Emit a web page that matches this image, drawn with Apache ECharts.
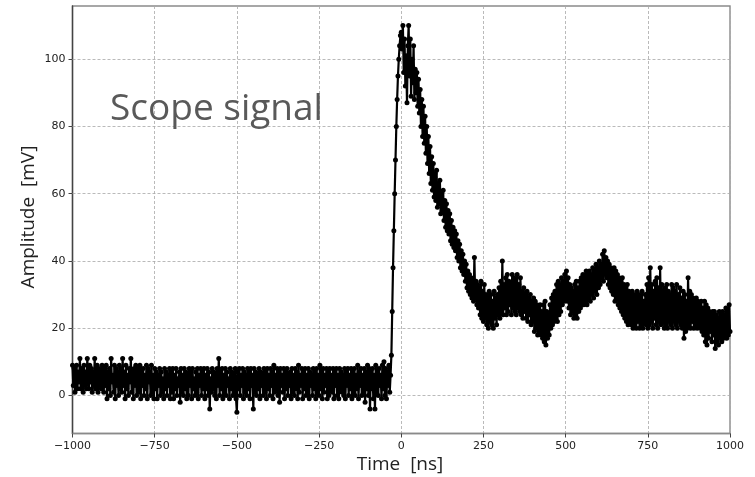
<!DOCTYPE html>
<html>
<head>
<meta charset="utf-8">
<script src="https://cdn.jsdelivr.net/npm/echarts@6/dist/echarts.min.js"></script>
<style>
html,body{margin:0;padding:0;background:#fff;}
#chart{width:755px;height:477px;}
</style>
</head>
<body>
<div id="chart"></div>
<script>
// ---- data (mV), sampled every 2.5 ns starting at -1000 ns ----
const startTime = -1000;   // ns
const sampleStep = 2.5;    // ns
// pre-trigger baseline, -1000 .. -32.5 ns
const baseline = [
  9,3,8,1,6,9,2,7,4,11,2,8,5,1,9,3,7,2,11,6,
  2,9,4,8,1,7,3,11,2,6,9,1,8,3,7,2,9,5,1,8,
  3,9,-1,7,2,8,0,11,4,6,1,9,-1,8,3,7,0,9,2,8,
  1,11,3,7,-1,9,2,6,0,8,4,11,1,7,-1,8,3,9,0,6,
  8,1,9,-1,7,3,8,0,6,2,9,-1,8,4,7,0,9,1,6,-1,
  8,2,7,-1,6,3,8,0,7,1,5,-1,8,2,7,0,6,3,8,-1,
  7,1,8,-1,6,2,8,0,5,3,7,-2,8,1,6,0,8,2,7,-1,
  6,0,8,3,7,-1,8,2,5,0,7,1,8,-1,6,3,8,0,7,2,
  8,-1,6,2,8,0,7,-4,5,1,8,2,7,0,6,-1,8,3,11,0,
  7,2,8,-1,6,1,8,0,7,3,5,-1,8,2,7,0,6,1,8,-1,
  -5,7,2,8,0,6,3,8,-1,7,1,6,0,8,2,7,-1,8,3,6,
  -4,8,1,7,0,6,2,8,-1,7,3,6,0,8,1,7,-1,8,2,6,
  0,8,3,7,-1,9,1,6,2,8,0,7,-2,8,3,6,1,8,-1,7,
  2,8,0,6,3,7,-1,8,1,6,0,8,2,7,-1,9,1,6,3,8,
  -1,7,2,8,0,6,1,8,-1,7,3,6,0,8,2,7,-1,8,1,6,
  0,9,2,7,-1,8,1,6,3,8,-1,7,0,8,2,6,1,8,-1,7,
  3,8,0,6,-1,8,2,7,1,6,0,8,-1,7,3,8,0,6,2,8,
  -1,7,1,8,0,6,2,9,-1,7,3,8,0,6,1,8,-2,7,2,9,
  0,8,-4,7,2,8,-1,6,-4,9,1,7,0,8,3,6,-1,9,2,10,
  0,8,-1,7,3,9,1,6
];
// leading edge, -30 .. 0 ns
const riseEdge = [12,25,38,49,60,70,80,88,95,100,104,107,108];
// pulse decay and afterpulses, 2.5 .. 1000 ns
const pulseTail = [
  103,110,96,106,92,101,87,104,110,95,106,89,100,93,104,88,97,90,96,86,
  94,84,91,80,88,77,86,75,83,72,80,69,77,66,74,63,71,61,69,59,
  66,58,67,56,63,57,64,54,60,55,61,52,58,50,57,49,55,48,54,46,
  52,45,50,44,49,43,48,41,46,40,45,38,43,37,42,36,40,34,39,32,
  37,31,36,30,35,29,34,28,41,29,34,27,33,26,32,24,34,23,31,22,
  33,23,30,21,29,20,31,22,30,21,28,20,31,23,29,21,30,24,32,23,
  34,25,40,24,33,26,35,24,36,25,34,27,33,24,36,26,35,25,34,24,
  36,26,33,25,35,24,31,23,32,25,30,23,31,22,29,24,30,21,28,22,
  29,19,28,20,27,18,26,19,27,18,25,17,27,16,28,15,25,17,24,18,
  27,20,29,21,30,22,31,23,33,22,34,24,33,25,35,27,34,28,36,29,
  37,28,35,26,33,24,32,25,31,23,33,24,34,23,32,25,34,26,35,27,
  36,27,35,28,37,27,36,29,37,28,36,30,38,29,37,31,39,30,38,32,
  40,33,39,35,42,34,43,36,41,35,40,33,39,32,38,31,37,30,38,28,
  37,29,36,27,35,26,34,25,35,24,33,23,32,22,33,21,31,22,30,21,
  31,20,30,21,29,20,31,22,30,20,29,21,31,20,28,22,30,21,33,20,
  35,21,38,22,33,20,31,23,34,21,35,20,32,22,38,21,33,22,31,20,
  32,21,33,20,31,22,30,21,33,20,32,22,31,21,33,20,30,22,32,21,
  29,20,31,17,30,19,28,20,35,21,31,20,30,22,29,20,28,21,29,20,
  28,21,27,20,28,19,26,18,28,16,27,15,26,17,25,19,24,16,25,18,
  25,14,24,16,23,15,25,17,24,16,25,17,24,18,26,17,25,18,27,19
];
const xTicks = [-1000,-750,-500,-250,0,250,500,750,1000];
const yTicks = [0,20,40,60,80,100];
const titleText = 'Scope signal';
const xName = 'Time  [ns]';
const yName = 'Amplitude  [mV]';

const amplitude = baseline.concat(riseEdge, pulseTail);
const seriesData = amplitude.map((v, i) => [startTime + i * sampleStep, v]);

const fmt = v => (v < 0 ? '\u2212' + Math.abs(v) : String(v));
const tickFont = {fontFamily: 'DejaVu Sans', fontSize: 11, color: '#222'};

const chart = echarts.init(document.getElementById('chart'), null, {renderer: 'canvas'});
chart.setOption({
  animation: false,
  backgroundColor: '#fff',
  grid: {left: 72.5, right: 25, top: 6, bottom: 43.5, show: true, borderColor: '#8a8a8a', borderWidth: 1.4, backgroundColor: 'transparent'},
  xAxis: {
    type: 'value', min: xTicks[0], max: xTicks[xTicks.length - 1], interval: 250,
    axisLine: {show: true, onZero: false, lineStyle: {color: '#8a8a8a', width: 1.4}},
    axisTick: {show: true, length: 4, lineStyle: {color: '#444'}},
    axisLabel: Object.assign({margin: 7, formatter: fmt}, tickFont),
    splitLine: {show: true, lineStyle: {color: '#a8a8a8', type: [3, 2], width: 0.8}}
  },
  yAxis: {
    type: 'value', min: -11.3, max: 115.8,
    axisLine: {show: true, onZero: false, lineStyle: {color: '#444', width: 1.4}},
    axisTick: {show: true, length: 4, customValues: yTicks, lineStyle: {color: '#444'}},
    axisLabel: Object.assign({margin: 7, customValues: yTicks, formatter: fmt}, tickFont),
    splitLine: {show: false}
  },
  graphic: [
    {type: 'text', x: 110, y: 109, z: 10, style: {text: titleText, font: '37px "Open Sans"', fill: '#595959', align: 'left', verticalAlign: 'middle'}},
    {type: 'text', x: 400, y: 465, z: 10, style: {text: xName, font: '19px "Open Sans"', fill: '#222', align: 'center', verticalAlign: 'middle'}},
    {type: 'text', x: 29, y: 217, rotation: Math.PI / 2, z: 10, style: {text: yName, font: '19px "Open Sans"', fill: '#222', align: 'center', verticalAlign: 'middle'}}
  ],
  series: [{
    type: 'line',
    data: seriesData,
    showAllSymbol: true,
    symbol: 'circle',
    symbolSize: 5,
    lineStyle: {color: '#000', width: 2.2},
    itemStyle: {color: '#000'},
    z: 3,
    markLine: {
      silent: true, symbol: 'none', label: {show: false}, z: 1,
      lineStyle: {color: '#a8a8a8', type: [3, 2], width: 0.8},
      data: yTicks.map(v => ({yAxis: v}))
    }
  }]
});
</script>
</body>
</html>
